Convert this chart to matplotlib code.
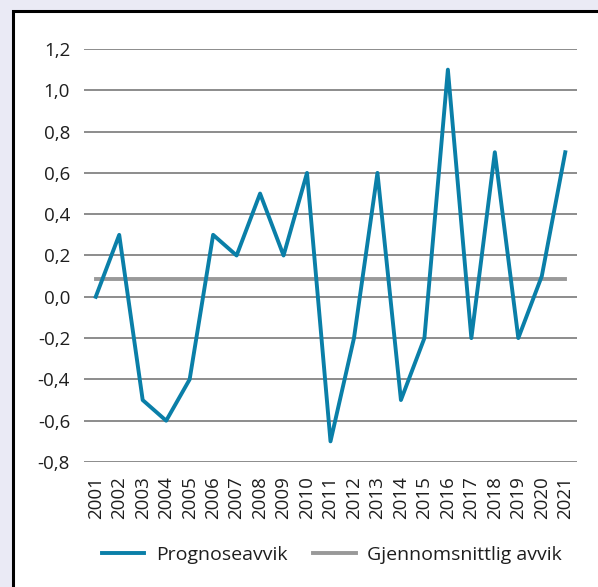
import matplotlib.pyplot as plt
from matplotlib.patches import Rectangle

# Data
years = [str(y) for y in range(2001, 2022)]
prognoseavvik = [0.0, 0.3, -0.5, -0.6, -0.4, 0.3, 0.2, 0.5, 0.2, 0.6,
                 -0.7, -0.2, 0.6, -0.5, -0.2, 1.1, -0.2, 0.7, -0.2, 0.1, 0.7]
gjennomsnitt = 0.086
yticks = [-0.8, -0.6, -0.4, -0.2, 0.0, 0.2, 0.4, 0.6, 0.8, 1.0, 1.2]
ytick_labels = ["-0,8", "-0,6", "-0,4", "-0,2", "0,0", "0,2", "0,4",
                "0,6", "0,8", "1,0", "1,2"]

plt.rcParams['font.family'] = ['Open Sans', 'DejaVu Sans']

W, H = 598, 587
fig = plt.figure(figsize=(W / 100, H / 100), dpi=100)
fig.patch.set_facecolor('#eaeaf5')

# white panel with black frame
fig.patches.append(Rectangle((13 / W, -0.05), 1.2, 1 - 11 / H + 0.05,
                             transform=fig.transFigure, facecolor='white',
                             edgecolor='black', linewidth=2.2, zorder=-10))

ax = fig.add_axes([84 / W, 1 - 462 / H, (577 - 84) / W, (462 - 49) / H])
ax.set_facecolor('none')

x = list(range(len(years)))
ax.plot(x, prognoseavvik, color='#0a7fa8', linewidth=2.8, zorder=3,
        label='Prognoseavvik')
ax.plot([x[0], x[-1]], [gjennomsnitt, gjennomsnitt], color='#999999',
        linewidth=2.8, zorder=2, label='Gjennomsnittlig avvik')

ax.set_xlim(-0.5, len(years) - 0.5)
ax.set_ylim(-0.8, 1.2)
ax.set_yticks(yticks)
ax.set_yticklabels(ytick_labels)
ax.set_xticks(x)
ax.set_xticklabels(years, rotation=90)
for y in yticks:
    ax.axhline(y, color='#6e6e6e', linewidth=1.1, zorder=1)

for s in ax.spines.values():
    s.set_visible(False)
ax.tick_params(axis='both', length=0, labelsize=13.5, colors='#1e1e1e')
ax.tick_params(axis='y', pad=10)
ax.tick_params(axis='x', pad=10)

fig.legend(loc='center', bbox_to_anchor=(0.555, 1 - 555 / H), ncol=2,
           frameon=False, fontsize=14, handlelength=2.2, columnspacing=1.3,
           handletextpad=0.6, labelcolor='#1e1e1e')

fig.savefig('out.png', dpi=100, facecolor=fig.get_facecolor())
